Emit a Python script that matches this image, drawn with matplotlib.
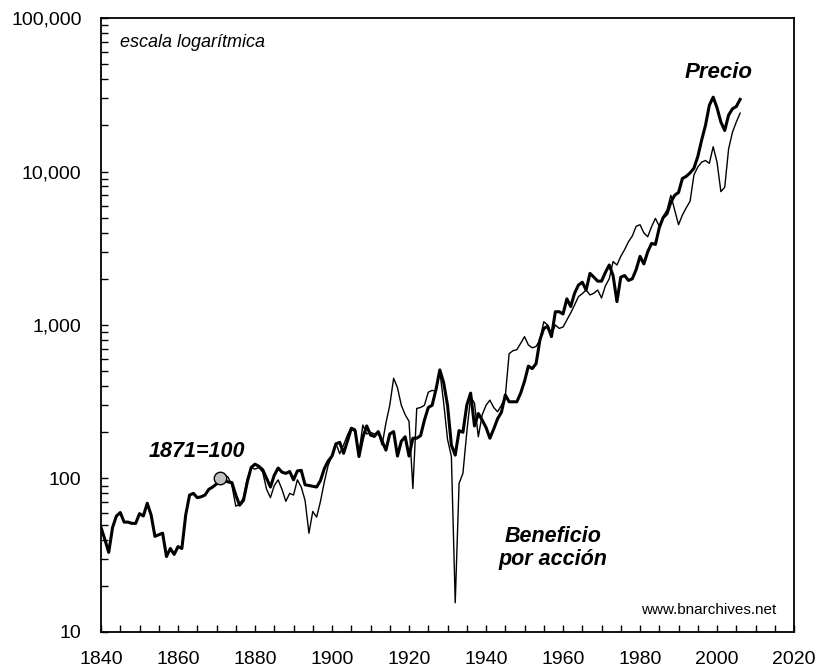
import numpy as np
import matplotlib.pyplot as plt
from matplotlib.ticker import FixedLocator, FuncFormatter, LogLocator, NullFormatter

plt.rcParams['font.family'] = ['Liberation Sans', 'DejaVu Sans']

# precio (1871=100), 1840-2006
price_years = list(range(1840, 2007))
price = [48, 40, 33, 48, 57, 60, 52, 52, 51, 51,
         59, 57, 69, 58, 42, 43, 44, 31, 35, 32,
         36, 35, 58, 78, 80, 75, 76, 78, 85, 88,
         92, 100, 97, 95, 94, 78, 67, 72, 95, 118,
         124, 120, 114, 100, 88, 105, 117, 110, 108, 111,
         98, 112, 113, 91, 90, 89, 88, 97, 116, 130,
         140, 168, 172, 146, 175, 212, 205, 139, 185, 220,
         192, 188, 202, 175, 153, 195, 202, 140, 175, 187,
         140, 183, 183, 190, 240, 290, 300, 380, 510, 420,
         300, 165, 142, 205, 200, 300, 360, 220, 265, 240,
         215, 183, 210, 245, 270, 350, 316, 316, 316, 360,
         430, 540, 520, 560, 800, 950, 980, 840, 1220, 1220,
         1180, 1480, 1320, 1610, 1820, 1900, 1690, 2170, 2050, 1930,
         1930, 2200, 2460, 2100, 1420, 2050, 2100, 1950, 2000, 2300,
         2800, 2500, 3000, 3400, 3350, 4300, 5000, 5300, 6300, 7000,
         7300, 9000, 9300, 9800, 10500, 12500, 16000, 20000, 27000, 30500,
         26000, 21000, 18500, 23300, 25600, 26500, 29500]

# beneficio por accion (1871=100), 1871-2006
eps_years = list(range(1871, 2007))
eps = [100, 106, 102, 90, 66, 68, 75, 100, 118,
       115, 118, 110, 85, 75, 90, 98, 85, 71, 80,
       78, 98, 88, 72, 44, 61, 56, 71, 95, 122,
       140, 170, 145, 165, 192, 215, 210, 146, 223, 195,
       200, 195, 200, 165, 230, 300, 450, 390, 300, 260,
       236, 86, 286, 290, 300, 365, 375, 370, 500, 310,
       180, 139, 15.5, 93, 108, 200, 340, 310, 187, 260,
       300, 324, 290, 272, 300, 341, 650, 680, 690, 760,
       840, 741, 710, 725, 800, 1050, 1000, 870, 1000, 950,
       970, 1080, 1200, 1350, 1530, 1600, 1690, 1570, 1610, 1690,
       1500, 1800, 2000, 2590, 2460, 2800, 3100, 3490, 3800, 4400,
       4500, 3980, 3760, 4370, 4950, 4400, 5100, 5600, 7000, 5600,
       4500, 5200, 5800, 6400, 9500, 10700, 11500, 11800, 11300, 14500,
       11500, 7400, 7900, 14000, 18000, 21000, 24000]

x_ticks = list(range(1840, 2021, 20))
y_ticks = [10, 100, 1000, 10000, 100000]

fig = plt.figure(figsize=(8.18, 6.67), dpi=100)
ax = fig.add_axes([0.1235, 0.0525, 0.8472, 0.9205])

ax.plot(eps_years, eps, color='black', lw=1.0, zorder=2)
ax.plot(price_years, price, color='black', lw=2.2, zorder=3)
ax.plot([1871], [100], 'o', ms=9, mfc='#c0c0c0', mec='black', mew=1.0, zorder=4)

ax.set_yscale('log')
ax.set_xlim(1840, 2020)
ax.set_ylim(10, 100000)

ax.xaxis.set_major_locator(FixedLocator(x_ticks))
ax.xaxis.set_minor_locator(FixedLocator(list(range(1840, 2021, 5))))
ax.yaxis.set_major_locator(FixedLocator(y_ticks))
ax.yaxis.set_minor_locator(LogLocator(base=10, subs=np.arange(2, 10)))
ax.yaxis.set_minor_formatter(NullFormatter())
ax.yaxis.set_major_formatter(FuncFormatter(lambda v, p: '{:,.0f}'.format(v)))

ax.tick_params(which='both', direction='in', length=5, width=1.0,
               top=False, right=False, labelsize=14)
ax.tick_params(axis='x', pad=14)
ax.tick_params(axis='y', pad=14)
for s in ax.spines.values():
    s.set_linewidth(1.3)

ax.text(0.027, 0.974, 'escala logarítmica', transform=ax.transAxes,
        fontsize=13, style='italic', ha='left', va='top')
ax.text(2000.5, 40600, 'Precio', fontsize=16, style='italic',
        weight='bold', ha='center', va='baseline')
ax.text(1864.9, 138, '1871=100', fontsize=15.5, style='italic',
        weight='bold', ha='center', va='baseline')
ax.text(1957.4, 38.5, 'Beneficio', fontsize=15.5, style='italic',
        weight='bold', ha='center', va='baseline')
ax.text(1957.4, 27.5, 'por acción', fontsize=15.5, style='italic',
        weight='bold', ha='center', va='baseline')
ax.text(2015.3, 13.9, 'www.bnarchives.net', fontsize=11,
        ha='right', va='center')

fig.savefig('out.png', dpi=100)
